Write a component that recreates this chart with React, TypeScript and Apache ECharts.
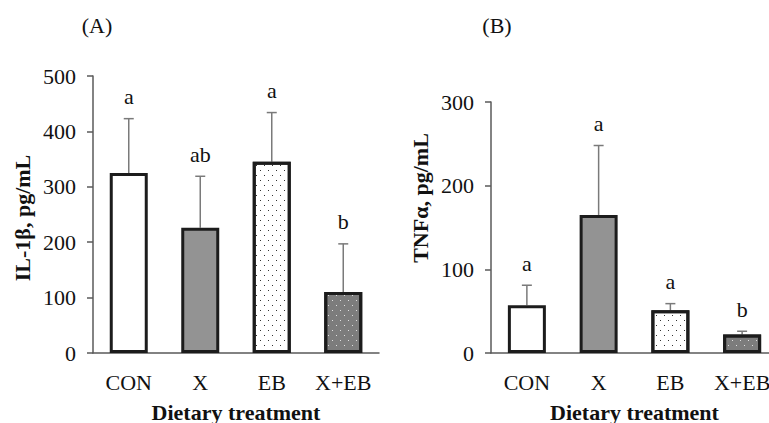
import React, { useEffect, useRef } from "react";
import * as echarts from "echarts";

const categories = ["CON", "X", "EB", "X+EB"];
const il1bMean = [325, 226, 345, 110];
const il1bSD = [98, 93, 89, 87];
const il1bLetters = ["a", "ab", "a", "b"];
const tnfMean = [57, 165, 51, 22];
const tnfSD = [24, 83, 8, 4];
const tnfLetters = ["a", "a", "a", "b"];
const yTicksA = { min: 0, max: 500, interval: 100 };
const yTicksB = { min: 0, max: 300, interval: 100 };

const FONT = "'Liberation Serif', 'Times New Roman', serif";
const TXT = "#111111";
const AXIS = "#5a5a5a";

const dotDecal = (color: string) => ({
  symbol: "rect",
  symbolSize: 1,
  color,
  dashArrayX: [
    [1, 7],
    [0, 4, 1, 3],
  ],
  dashArrayY: [1, 3.5],
  rotation: 0,
});

const barStyles = [
  { color: "#ffffff" },
  { color: "#939393" },
  { color: "#ffffff", decal: dotDecal("#333333") },
  { color: "#7c7c7c", decal: dotDecal("#e0e0e0") },
];

function barData(vals: number[]) {
  return vals.map((v, i) => ({
    value: v,
    itemStyle: { ...barStyles[i], borderColor: "#1c1c1c", borderWidth: 3 },
  }));
}

function errData(mean: number[], sd: number[], letters: string[]) {
  return mean.map((m, i) => [i, m, m + sd[i], letters[i]]);
}

const errLetters: Record<number, string[]> = { 1: il1bLetters, 3: tnfLetters };

const renderErr = (params: any, api: any) => {
  const i = api.value(0);
  const p0 = api.coord([i, api.value(1)]);
  const p1 = api.coord([i, api.value(2)]);
  const letter = errLetters[params.seriesIndex][params.dataIndex];
  const cap = 5;
  return {
    type: "group",
    children: [
      {
        type: "line",
        shape: { x1: p0[0], y1: p0[1], x2: p1[0], y2: p1[1] },
        style: { stroke: "#7a7a7a", lineWidth: 1.5 },
      },
      {
        type: "line",
        shape: { x1: p1[0] - cap, y1: p1[1], x2: p1[0] + cap, y2: p1[1] },
        style: { stroke: "#7a7a7a", lineWidth: 1.5 },
      },
      {
        type: "text",
        x: p1[0],
        y: p1[1] - 22,
        style: {
          text: letter,
          fill: TXT,
          font: `22px ${FONT}`,
          align: "center",
          verticalAlign: "middle",
        },
      },
    ],
  };
};

function xAxisCfg(gridIndex: number, nameGap: number) {
  return {
    gridIndex,
    type: "category",
    data: categories,
    axisLine: { show: true, lineStyle: { color: AXIS, width: 1.5 } },
    axisTick: { show: false },
    axisLabel: { color: TXT, fontSize: 22, fontFamily: FONT, margin: 18, interval: 0, hideOverlap: false },
    name: "Dietary treatment",
    nameLocation: "middle",
    nameGap,
    nameTextStyle: { color: TXT, fontSize: 22, fontWeight: "bold", fontFamily: FONT },
  };
}

function yAxisCfg(gridIndex: number, t: { min: number; max: number; interval: number }) {
  return {
    gridIndex,
    type: "value",
    min: t.min,
    max: t.max,
    interval: t.interval,
    splitLine: { show: false },
    axisLine: { show: true, lineStyle: { color: AXIS, width: 1.5 } },
    axisTick: { show: true, length: 6, lineStyle: { color: AXIS, width: 1.5 } },
    axisLabel: { color: TXT, fontSize: 22, fontFamily: FONT, margin: 17 },
  };
}

export default function App() {
  const ref = useRef<HTMLDivElement>(null);
  useEffect(() => {
    if (!ref.current) return;
    const chart = echarts.init(ref.current, null, { renderer: "svg" });
    chart.setOption({
      animation: false,
      backgroundColor: "#ffffff",
      grid: [
        { left: 93, top: 76, width: 286, height: 277, outerBoundsMode: "none", containLabel: false },
        { left: 491, top: 102, width: 287, height: 251, outerBoundsMode: "none", containLabel: false },
      ],
      xAxis: [xAxisCfg(0, 48), xAxisCfg(1, 48)],
      yAxis: [yAxisCfg(0, yTicksA), yAxisCfg(1, yTicksB)],
      series: [
        {
          type: "bar",
          xAxisIndex: 0,
          yAxisIndex: 0,
          barWidth: 38,
          data: barData(il1bMean),
          z: 3,
        },
        {
          type: "custom",
          xAxisIndex: 0,
          yAxisIndex: 0,
          renderItem: renderErr,
          data: errData(il1bMean, il1bSD, il1bLetters),
          z: 2,
        },
        {
          type: "bar",
          xAxisIndex: 1,
          yAxisIndex: 1,
          barWidth: 38,
          data: barData(tnfMean),
          z: 3,
        },
        {
          type: "custom",
          xAxisIndex: 1,
          yAxisIndex: 1,
          renderItem: renderErr,
          data: errData(tnfMean, tnfSD, tnfLetters),
          z: 2,
        },
      ],
      graphic: [
        {
          type: "text",
          x: 97,
          y: 25,
          style: { text: "(A)", fill: TXT, font: `22px ${FONT}`, align: "center", verticalAlign: "middle" },
        },
        {
          type: "text",
          x: 497,
          y: 25,
          style: { text: "(B)", fill: TXT, font: `22px ${FONT}`, align: "center", verticalAlign: "middle" },
        },
        {
          type: "text",
          x: 22,
          y: 218,
          rotation: Math.PI / 2,
          style: {
            text: "IL-1β, pg/mL",
            fill: TXT,
            font: `bold 22px ${FONT}`,
            align: "center",
            verticalAlign: "middle",
          },
        },
        {
          type: "text",
          x: 420,
          y: 198,
          rotation: Math.PI / 2,
          style: {
            text: "TNFα, pg/mL",
            fill: TXT,
            font: `bold 22px ${FONT}`,
            align: "center",
            verticalAlign: "middle",
          },
        },
      ],
    });
    return () => chart.dispose();
  }, []);
  return (
    <div
      ref={ref}
      style={{ position: "fixed", left: 0, top: 0, width: 769, height: 423, background: "#fff" }}
    />
  );
}
